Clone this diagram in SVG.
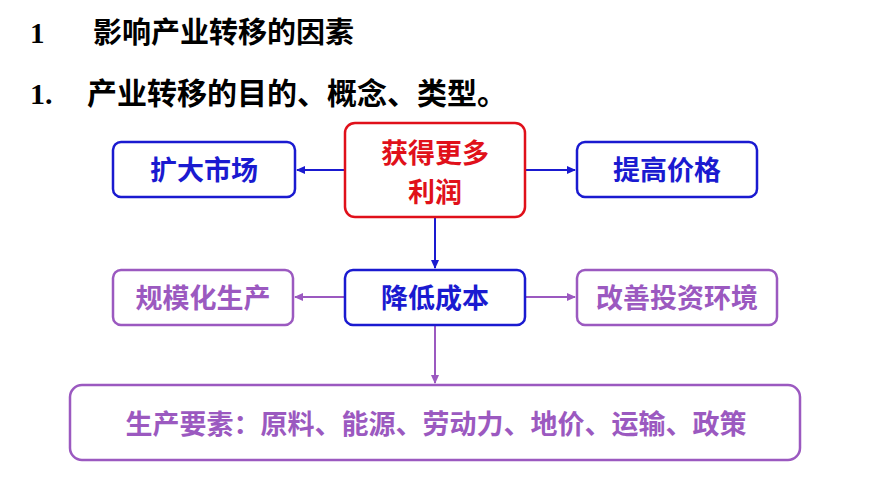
<svg xmlns="http://www.w3.org/2000/svg" width="870" height="489" viewBox="0 0 870 489">
<defs>
<marker id="ab" markerWidth="10" markerHeight="10" refX="8" refY="5" orient="auto" markerUnits="userSpaceOnUse"><path d="M0,1 L9,5 L0,9 Z" fill="#1a1ad0"/></marker>
<marker id="ap" markerWidth="10" markerHeight="10" refX="8" refY="5" orient="auto" markerUnits="userSpaceOnUse"><path d="M0,1 L9,5 L0,9 Z" fill="#9b59c0"/></marker>
</defs>
<style>
.t{font-family:"Liberation Serif","Noto Sans CJK SC",serif;font-weight:bold;fill:#000}
.n{font-family:"Noto Sans CJK SC",sans-serif;font-weight:bold;font-size:27px;text-anchor:middle}
.bb{fill:#fff;stroke:#1a1ad0;stroke-width:2.5}
.bp{fill:#fff;stroke:#9b59c0;stroke-width:2.5}
.br{fill:#fff;stroke:#e0101a;stroke-width:2.5}
.lb{stroke:#1a1ad0;stroke-width:2;fill:none;marker-end:url(#ab)}
.lp{stroke:#9b59c0;stroke-width:2;fill:none;marker-end:url(#ap)}
</style>
<text class="t" x="30" y="43" font-size="29">1</text>
<text class="t" x="93" y="43" font-size="29">影响产业转移的因素</text>
<text class="t" x="30" y="104" font-size="30">1.</text>
<text class="t" x="87" y="104" font-size="30">产业转移的目的、概念、类型。</text>
<g id="connectors">
<line class="lb" x1="345" y1="170" x2="297" y2="170"/>
<line class="lb" x1="525" y1="170" x2="575" y2="170"/>
<line class="lb" x1="435" y1="217" x2="435" y2="268"/>
<line class="lp" x1="345" y1="297" x2="295" y2="297"/>
<line class="lp" x1="525" y1="297" x2="575" y2="297"/>
<line class="lp" x1="435" y1="325" x2="435" y2="383"/>
</g>
<g id="n1"><rect class="bb" x="113" y="142" width="182" height="55" rx="8"/><text class="n" x="204" y="180" fill="#1a1ad0">扩大市场</text></g>
<g id="n2"><rect class="br" x="345" y="123" width="180" height="94" rx="10"/><text class="n" x="435" y="163" fill="#e0101a">获得更多</text><text class="n" x="435" y="202" fill="#e0101a">利润</text></g>
<g id="n3"><rect class="bb" x="577" y="142" width="180" height="55" rx="8"/><text class="n" x="667" y="180" fill="#1a1ad0">提高价格</text></g>
<g id="n4"><rect class="bp" x="113" y="270" width="180" height="55" rx="8"/><text class="n" x="203" y="308" fill="#9b59c0">规模化生产</text></g>
<g id="n5"><rect class="bb" x="345" y="270" width="180" height="55" rx="8"/><text class="n" x="435" y="308" fill="#1a1ad0">降低成本</text></g>
<g id="n6"><rect class="bp" x="577" y="270" width="200" height="55" rx="8"/><text class="n" x="677" y="308" fill="#9b59c0">改善投资环境</text></g>
<g id="n7"><rect class="bp" x="70" y="385" width="730" height="75" rx="12"/><text class="n" x="436" y="434" fill="#9b59c0" font-size="30">生产要素：原料、能源、劳动力、地价、运输、政策</text></g>
</svg>
